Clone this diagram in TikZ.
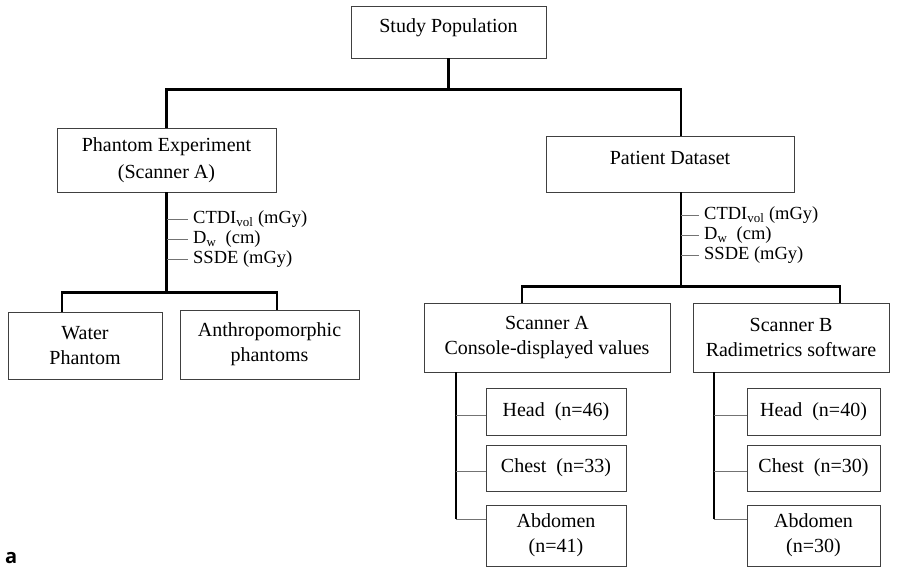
\documentclass[tikz,border=0pt]{standalone}
\usepackage{fontspec}
\setmainfont{Liberation Serif}
\newfontfamily\figlabel{Open Sans}
\usetikzlibrary{positioning}

\tikzset{
  box/.style={draw=black!75, line width=0.8pt, align=center, inner sep=0pt, font=\fontsize{20}{25}\selectfont},
  topline/.style={text height=14pt, text depth=14pt},
  lbl/.style={inner xsep=5pt, inner ysep=0pt, text height=13pt, text depth=4pt, font=\fontsize{18.5}{22}\selectfont},
  trunk/.style={line width=2.2pt},
  twig/.style={draw=black!55, line width=0.9pt}
}

\begin{document}
\begin{tikzpicture}[on grid, auto]
\useasboundingbox (0,0) rectangle (904pt,-568pt);
\node  (1)[box, topline, minimum width=195pt, minimum height=52pt] at (448.5pt,-32pt) {Study Population};
\node  (2)[box, minimum width=219pt, minimum height=64pt] [below left  = 128pt and 282pt of 1] {Phantom Experiment\\[2.4pt](Scanner A)};
\node  (3)[box, topline, minimum width=248pt, minimum height=56pt] [below right = 132pt and 221.5pt of 1] {Patient Dataset};
\node  (4)[box, minimum width=154pt, minimum height=67pt] [below left  = 185.5pt and 81.5pt of 2] {Water\\Phantom};
\node  (5)[box, minimum width=179pt, minimum height=69pt] [below right = 184.5pt and 103pt of 2] {Anthropomorphic\\phantoms};
\node  (6)[box, minimum width=246pt, minimum height=69pt] [below left  = 173.5pt and 123pt of 3] {Scanner A\\Console-displayed values};
\node  (7)[box, minimum width=196pt, minimum height=69pt] [below right = 173.5pt and 121pt of 3] {Scanner B\\Radimetrics software};
\node  (8)[box, minimum width=140pt, minimum height=47pt] [below right = 74pt and 9pt of 6] {Head~~(n=46)};
\node  (9)[box, minimum width=140pt, minimum height=46pt] [below = 56.5pt of 8] {Chest~~(n=33)};
\node (10)[box, minimum width=140pt, minimum height=61pt] [below = 67.5pt of 9] {Abdomen\\(n=41)};
\node (11)[box, minimum width=133pt, minimum height=47pt] [below right = 74pt and 22.5pt of 7] {Head~~(n=40)};
\node (12)[box, minimum width=133pt, minimum height=46pt] [below = 56.5pt of 11] {Chest~~(n=30)};
\node (13)[box, minimum width=133pt, minimum height=61pt] [below = 67.5pt of 12] {Abdomen\\(n=30)};
% quantities
\node (14)[lbl] [below right = 27pt and 21.5pt of 2.south, anchor=west] {CTDI\textsubscript{vol} (mGy)};
\node (15)[lbl] [below = 20pt of 14.west, anchor=west] {D\textsubscript{w}~~(cm)};
\node (16)[lbl] [below = 20pt of 15.west, anchor=west] {SSDE (mGy)};
\node (17)[lbl] [below right = 23pt and 29pt of 3.south, anchor=west] {CTDI\textsubscript{vol} (mGy)};
\node (18)[lbl] [below = 20pt of 17.west, anchor=west] {D\textsubscript{w}~~(cm)};
\node (19)[lbl] [below = 20pt of 18.west, anchor=west] {SSDE (mGy)};
\node (20)[inner sep=0pt, anchor=base west, font=\figlabel\bfseries\fontsize{20}{24}\selectfont] at (5pt,-563pt) {a};
% forks
\coordinate (f1) at ([yshift=-31pt]1.south);
\draw[trunk] (1.south) -- (f1) -| (2.north);
\draw[trunk] (f1) -| ([xshift=11pt]3.north);
\coordinate (f2) at ([yshift=-100pt]2.south);
\draw[trunk] (2.south) -- (f2) -| ([xshift=-23pt]4.north);
\draw[trunk] (f2) -| ([xshift=7.5pt]5.north);
\coordinate (t3) at ([xshift=11pt]3.south);
\coordinate (f3) at ([yshift=-94pt]t3);
\draw[trunk] (t3) -- (f3) -| ([xshift=-25pt]6.north);
\draw[trunk] (f3) -| ([xshift=49pt]7.north);
\foreach \n in {14,15,16} \draw[twig] (\n.west -| 2.south) -- (\n.west);
\foreach \n in {17,18,19} \draw[twig] (\n.west -| t3) -- (\n.west);
% scanner lists
\coordinate (t6) at ([xshift=32pt]6.south west);
\coordinate (t7) at ([xshift=21pt]7.south west);
\foreach \n/\s in {8/-3.5, 9/-3, 10/16.5, 11/-3.5, 12/-3, 13/16.5}
  \coordinate (w\n) at ([yshift=\s pt]\n.west);
\draw[trunk] (t6) -- (t6 |- w10);
\draw[trunk] (t7) -- (t7 |- w13);
\foreach \n in {8,9,10} \draw[twig] (t6 |- w\n) -- (w\n);
\foreach \n in {11,12,13} \draw[twig] (t7 |- w\n) -- (w\n);
\end{tikzpicture}
\end{document}
